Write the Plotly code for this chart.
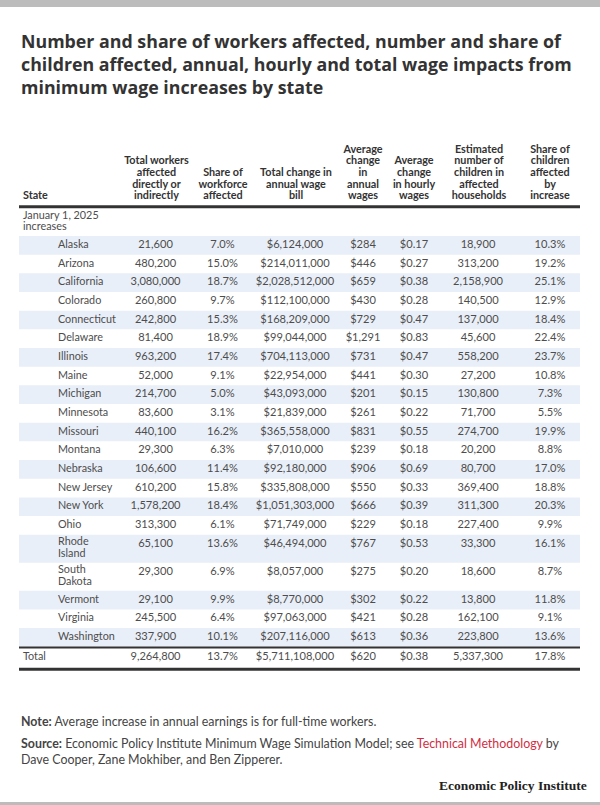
import plotly.graph_objects as go

# ---------------- data ----------------
group_label = ["January 1, 2025", "increases"]
states = ["Alaska", "Arizona", "California", "Colorado", "Connecticut", "Delaware",
          "Illinois", "Maine", "Michigan", "Minnesota", "Missouri", "Montana",
          "Nebraska", "New Jersey", "New York", "Ohio", "Rhode Island",
          "South Dakota", "Vermont", "Virginia", "Washington"]
workers = [21600, 480200, 3080000, 260800, 242800, 81400, 963200, 52000, 214700,
           83600, 440100, 29300, 106600, 610200, 1578200, 313300, 65100, 29300,
           29100, 245500, 337900]
share_workforce = [7.0, 15.0, 18.7, 9.7, 15.3, 18.9, 17.4, 9.1, 5.0, 3.1, 16.2,
                   6.3, 11.4, 15.8, 18.4, 6.1, 13.6, 6.9, 9.9, 6.4, 10.1]
wage_bill = [6124000, 214011000, 2028512000, 112100000, 168209000, 99044000,
             704113000, 22954000, 43093000, 21839000, 365558000, 7010000,
             92180000, 335808000, 1051303000, 71749000, 46494000, 8057000,
             8770000, 97063000, 207116000]
annual_change = [284, 446, 659, 430, 729, 1291, 731, 441, 201, 261, 831, 239,
                 906, 550, 666, 229, 767, 275, 302, 421, 613]
hourly_change = [0.17, 0.27, 0.38, 0.28, 0.47, 0.83, 0.47, 0.30, 0.15, 0.22,
                 0.55, 0.18, 0.69, 0.33, 0.39, 0.18, 0.53, 0.20, 0.22, 0.28, 0.36]
children = [18900, 313200, 2158900, 140500, 137000, 45600, 558200, 27200,
            130800, 71700, 274700, 20200, 80700, 369400, 311300, 227400, 33300,
            18600, 13800, 162100, 223800]
share_children = [10.3, 19.2, 25.1, 12.9, 18.4, 22.4, 23.7, 10.8, 7.3, 5.5,
                  19.9, 8.8, 17.0, 18.8, 20.3, 9.9, 16.1, 8.7, 11.8, 9.1, 13.6]
total_row = ["Total", 9264800, 13.7, 5711108000, 620, 0.38, 5337300, 17.8]

headers = [
    ["State"],
    ["Total workers", "affected", "directly or", "indirectly"],
    ["Share of", "workforce", "affected"],
    ["Total change in", "annual wage", "bill"],
    ["Average", "change", "in", "annual", "wages"],
    ["Average", "change", "in hourly", "wages"],
    ["Estimated", "number of", "children in", "affected", "households"],
    ["Share of", "children", "affected", "by", "increase"],
]

title = ("Number and share of workers affected, number and share of<br>"
         "children affected, annual, hourly and total wage impacts from<br>"
         "minimum wage increases by state")
note = "<b>Note:</b> Average increase in annual earnings is for full-time workers."
source = ("<b>Source:</b> Economic Policy Institute Minimum Wage Simulation Model; see "
          "<span style='color:#d12e43'>Technical Methodology</span> by<br>"
          "Dave Cooper, Zane Mokhiber, and Ben Zipperer.")
brand = "Economic Policy Institute"

# ---------------- formatting ----------------
fmt = [
    lambda v: f"{v:,}",
    lambda v: f"{v:.1f}%",
    lambda v: f"${v:,}",
    lambda v: f"${v:,}",
    lambda v: f"${v:.2f}",
    lambda v: f"{v:,}",
    lambda v: f"{v:.1f}%",
]
columns = [workers, share_workforce, wage_bill, annual_change, hourly_change,
           children, share_children]

# ---------------- layout geometry ----------------
W, H = 600, 805
FONT = "Lato"
TXT = "#4d4d4d"
DARK = "#333333"
STRIPE = "#e9eff8"
NAME_SIZE = 10.8
NUM_SIZE = 11.1
HDR_SIZE = 10.8
col_x = [155.5, 222.5, 295, 363, 414, 478, 550]
hdr_x = [156.5, 223, 296, 363, 414, 479, 550]
state_x = 58
left_x = 23
tab_l, tab_r = 19, 580
hdr_base = 196.7
hdr_line = 206.7
line_h = 11.7
row_h = 18.67
wrap = {"Rhode Island": ["Rhode", "Island"], "South Dakota": ["South", "Dakota"]}

tops, heights = [], []
y = 236.0
for s in states:
    n = len(wrap.get(s, [s]))
    h = row_h + (n - 1) * 9.33
    tops.append(y)
    heights.append(h)
    y += h
table_end = y
first_line = [t + 9.3 for t in tops]

fig = go.Figure()

# stripes
idx = [i for i in range(len(states)) if i % 2 == 0]
fig.add_trace(go.Bar(
    orientation="h",
    y=[tops[i] + heights[i] / 2 for i in idx],
    x=[tab_r - tab_l] * len(idx),
    base=tab_l,
    width=[heights[i] for i in idx],
    marker=dict(color=STRIPE, line=dict(width=0)),
    hoverinfo="skip", showlegend=False,
))

# header lines
hx, hy, ht, hp = [], [], [], []
for c, lines in enumerate(headers):
    n = len(lines)
    for k, ln in enumerate(lines):
        hx.append(left_x if c == 0 else hdr_x[c - 1])
        hy.append(hdr_base - (n - 1 - k) * line_h)
        ht.append(ln)
        hp.append("middle right" if c == 0 else "middle center")
fig.add_trace(go.Scatter(
    x=hx, y=hy, text=ht, mode="text", textposition=hp,
    textfont=dict(family=FONT, size=HDR_SIZE, color=DARK, weight="bold"),
    hoverinfo="skip", showlegend=False,
))

# state names
sx, sy, st = [], [], []
for i, s in enumerate(states):
    for k, ln in enumerate(wrap.get(s, [s])):
        sx.append(state_x)
        sy.append(first_line[i] - 1.5 + k * line_h if s in wrap else first_line[i])
        st.append(ln)
fig.add_trace(go.Scatter(
    x=sx, y=sy, text=st, mode="text", textposition="middle right",
    textfont=dict(family=FONT, size=NAME_SIZE, color=TXT),
    hoverinfo="skip", showlegend=False,
))

# group label
fig.add_trace(go.Scatter(
    x=[left_x] * len(group_label),
    y=[216 + k * line_h for k in range(len(group_label))],
    text=group_label, mode="text",
    textposition="middle right",
    textfont=dict(family=FONT, size=NAME_SIZE, color=TXT),
    hoverinfo="skip", showlegend=False,
))

# values
for c, vals in enumerate(columns):
    fig.add_trace(go.Scatter(
        x=[col_x[c]] * len(vals), y=first_line,
        text=[fmt[c](v) for v in vals], mode="text", textposition="middle center",
        textfont=dict(family=FONT, size=NUM_SIZE, color=TXT),
        hoverinfo="skip", showlegend=False,
    ))

# total row
total_y = table_end + 10.8
fig.add_trace(go.Scatter(
    x=[left_x], y=[total_y], text=[total_row[0]], mode="text",
    textposition="middle right",
    textfont=dict(family=FONT, size=NAME_SIZE, color=TXT),
    hoverinfo="skip", showlegend=False,
))
fig.add_trace(go.Scatter(
    x=col_x, y=[total_y] * 7,
    text=[fmt[c](v) for c, v in enumerate(total_row[1:])],
    mode="text", textposition="middle center",
    textfont=dict(family=FONT, size=NUM_SIZE, color=TXT),
    hoverinfo="skip", showlegend=False,
))

shapes = [
    dict(type="rect", xref="paper", yref="y", x0=0, x1=1, y0=0, y1=7,
         fillcolor="#bcbcbc", line_width=0),
    dict(type="rect", xref="paper", yref="y", x0=0, x1=1, y0=802, y1=805,
         fillcolor="#bcbcbc", line_width=0),
    dict(type="line", xref="x", yref="y", x0=tab_l, x1=tab_r, y0=hdr_line, y1=hdr_line,
         line=dict(color=DARK, width=3)),
    dict(type="line", xref="x", yref="y", x0=tab_l, x1=tab_r, y0=table_end + 0.8,
         y1=table_end + 0.8, line=dict(color=DARK, width=2)),
    dict(type="line", xref="x", yref="y", x0=tab_l, x1=tab_r, y0=total_y + 11.8,
         y1=total_y + 11.8, line=dict(color=DARK, width=3)),
]

annotations = [
    dict(x=19, y=63.8, xref="x", yref="y", text=title, showarrow=False,
         xanchor="left", yanchor="middle", align="left",
         font=dict(family="Open Sans", size=17.8, color=DARK, weight="bold")),
    dict(x=19, y=721.7, xref="x", yref="y", text=note, showarrow=False,
         xanchor="left", yanchor="middle", align="left",
         font=dict(family=FONT, size=12.4, color="#444444")),
    dict(x=19, y=751.5, xref="x", yref="y", text=source, showarrow=False,
         xanchor="left", yanchor="middle", align="left",
         font=dict(family=FONT, size=12.4, color="#444444")),
    dict(x=589, y=785, xref="x", yref="y", text=brand, showarrow=False,
         xanchor="right", yanchor="middle",
         font=dict(family="Liberation Serif", size=13.5, color="#222222", weight="bold")),
]

fig.update_layout(
    width=W, height=H,
    margin=dict(l=0, r=0, t=0, b=0),
    paper_bgcolor="white", plot_bgcolor="white",
    barmode="overlay",
    xaxis=dict(range=[0, W], visible=False, fixedrange=True),
    yaxis=dict(range=[H, 0], visible=False, fixedrange=True),
    shapes=shapes, annotations=annotations,
    showlegend=False,
)

fig.write_html(
    "out.html",
    config={"displayModeBar": False},
    post_script="document.body.style.margin='0';document.body.style.overflow='hidden';",
)
